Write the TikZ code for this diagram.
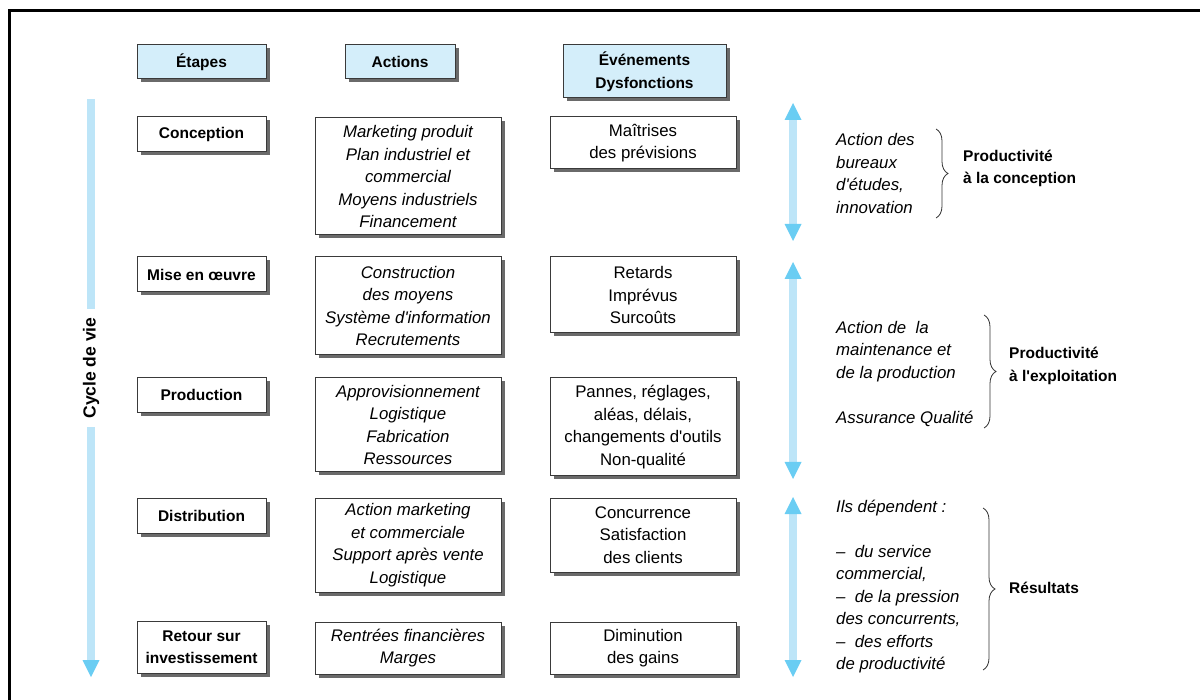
\documentclass[tikz,border=0pt]{standalone}
\usepackage{fontspec}
\setmainfont{Liberation Sans}
\usetikzlibrary{arrows.meta,shadows,decorations.pathreplacing}

\definecolor{headfill}{HTML}{D4EEFA}
\definecolor{barblue}{HTML}{BDE5F8}
\definecolor{tipblue}{HTML}{6ACDF3}
\definecolor{boxline}{HTML}{3A3A3A}
\definecolor{shadowgray}{HTML}{6A6A6A}

\newcommand{\myq}{\textquotesingle}

\tikzset{
  txtup/.style={font=\fontsize{16.8}{22.5}\selectfont},
  txtit/.style={font=\fontsize{16.8}{22.5}\selectfont\itshape},
  txtbold/.style={font=\fontsize{15.5}{22.5}\selectfont\bfseries},
  framebox/.style={draw=boxline, line width=1pt, fill=white, inner sep=0pt, align=center,
    general shadow={fill=shadowgray, shadow xshift=3.5pt, shadow yshift=-3.5pt}},
  headbox/.style={framebox, fill=headfill, txtbold},
  stepbox/.style={framebox, txtbold, minimum width=129pt, minimum height=35pt},
  actbox/.style={framebox, txtit, minimum width=186pt},
  evtbox/.style={framebox, txtup, minimum width=186pt},
  sidetext/.style={txtit, anchor=west, align=left, inner sep=0pt},
  sidelabel/.style={txtbold, anchor=west, align=left, inner sep=0pt},
  lifebar/.style={draw=barblue, line width=8pt},
  lifetip/.tip={Triangle[width=17pt, length=17pt, line width=0pt, color=tipblue]},
  bracket/.style={decorate, decoration={brace, amplitude=12pt}, line width=0.8pt, draw=black!80}
}

\begin{document}
\begin{tikzpicture}[x=1pt, y=-1pt]
\useasboundingbox (0,0) rectangle (1200,700);

% outer frame (top and left edges)
\draw[line width=3pt] (9.5,700) -- (9.5,11) -- (1200,11);

% column headers
\node[headbox, minimum width=129pt, minimum height=34pt] (hEt) at (201.5,62) {Étapes};
\node[headbox, minimum width=110pt, minimum height=34pt] (hAc) at (400,62) {Actions};
\node[headbox, minimum width=163pt, minimum height=53pt] (hEv) at (644.5,71.5) {Événements\\Dysfonctions};

% stages
\node[stepbox] (sConc) at (201.5,134.5) {Conception};
\node[stepbox] (sMise) at (201.5,274.5) {Mise en œuvre};
\node[stepbox] (sProd) at (201.5,395) {Production};
\node[stepbox] (sDist) at (201.5,515.5) {Distribution};
\node[stepbox, minimum height=52pt] (sRet) at (201.5,647) {Retour sur\\investissement};

% actions
\node[actbox, minimum height=117pt] (aConc) at (408,176.5)
  {Marketing produit\\Plan industriel et\\commercial\\Moyens industriels\\Financement};
\node[actbox, minimum height=98pt] (aMise) at (408,306)
  {Construction\\des moyens\\Système d\myq information\\Recrutements};
\node[actbox, minimum height=94pt] (aProd) at (408,425)
  {Approvisionnement\\Logistique\\Fabrication\\Ressources};
\node[actbox, minimum height=94pt] (aDist) at (408,545)
  {Action marketing\\et commerciale\\Support après vente\\Logistique};
\node[actbox, minimum height=52pt] (aRet) at (408,648)
  {Rentrées financières\\Marges};

% events and malfunctions
\node[evtbox, minimum height=52pt] (eConc) at (643,143) {Maîtrises\\des prévisions};
\node[evtbox, minimum height=76pt] (eMise) at (643,295) {Retards\\Imprévus\\Surcoûts};
\node[evtbox, minimum height=98pt] (eProd) at (643,427)
  {Pannes, réglages,\\aléas, délais,\\changements d\myq outils\\Non-qualité};
\node[evtbox, minimum height=74pt] (eDist) at (643,535) {Concurrence\\Satisfaction\\des clients};
\node[evtbox, minimum height=52pt] (eRet) at (643,648) {Diminution\\des gains};

% life cycle arrow
\node[txtbold, font=\fontsize{17.5}{20}\selectfont\bfseries, rotate=90, inner sep=8pt] (cyc) at (91,368) {Cycle de vie};
\coordinate (cTop) at (91,99);
\coordinate (cBot) at (91,677);
\draw[lifebar] (cTop) -- (cyc.east);
\draw[lifebar, -lifetip] (cyc.west) -- (cBot);

% productivity arrows
\coordinate (r1a) at (793,103);
\coordinate (r1b) at (793,241);
\coordinate (r2a) at (793,262);
\coordinate (r2b) at (793,479);
\coordinate (r3a) at (793,497);
\coordinate (r3b) at (793,677);
\draw[lifebar, lifetip-lifetip] (r1a) -- (r1b);
\draw[lifebar, lifetip-lifetip] (r2a) -- (r2b);
\draw[lifebar, lifetip-lifetip] (r3a) -- (r3b);

% design productivity
\node[sidetext] (t1) at (836,173.5) {Action des\\bureaux\\d\myq études,\\innovation};
\coordinate (b1a) at (936,129);
\coordinate (b1b) at (936,218);
\draw[bracket] (b1a) -- (b1b);
\node[sidelabel] (l1) at (963,168.5) {Productivité\\à la conception};

% operating productivity
\node[sidetext] (t2) at (836,374) {Action de~~la\\maintenance et\\de la production\\[22.5pt]Assurance Qualité};
\coordinate (b2a) at (984,315);
\coordinate (b2b) at (984,428);
\draw[bracket] (b2a) -- (b2b);
\node[sidelabel] (l2) at (1009,366) {Productivité\\à l\myq exploitation};

% results
\node[sidetext] (t3) at (836,586.5) {Ils dépendent :\\[22.5pt]–~~du service\\commercial,\\–~~de la pression\\des concurrents,\\–~~des efforts\\de productivité};
\coordinate (b3a) at (983,508);
\coordinate (b3b) at (983,670);
\draw[bracket] (b3a) -- (b3b);
\node[sidelabel] (l3) at (1009,588) {Résultats};

\end{tikzpicture}
\end{document}
